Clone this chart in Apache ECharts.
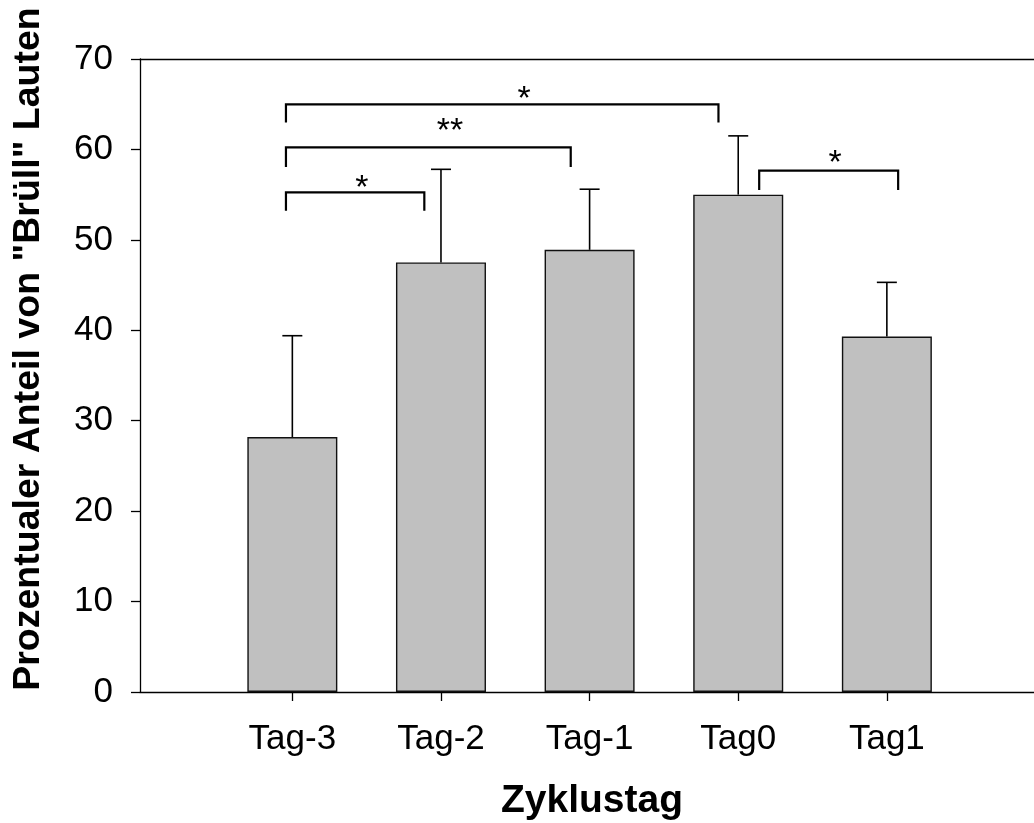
<!DOCTYPE html>
<html>
<head>
<meta charset="utf-8">
<style>
  html, body { margin: 0; padding: 0; background: #fff; overflow: hidden; }
  #chart { width: 1034px; height: 823px; }
</style>
<script src="https://cdn.jsdelivr.net/npm/echarts@6/dist/echarts.min.js"></script>
</head>
<body>
<div id="chart"></div>
<script>
// Cycle days on the x axis
const categories = ['Tag-3', 'Tag-2', 'Tag-1', 'Tag0', 'Tag1'];
// Mean share of "Brüll" calls (%) and upper end of the error bar
const means = [28.2, 47.5, 48.9, 55.0, 39.3];
const upper = [39.4, 57.8, 55.6, 61.5, 45.3];
// y axis ticks
const yTicks = [0, 10, 20, 30, 40, 50, 60, 70];

// Significance brackets: [x start, x end, bracket height, leg length]
const brackets = [
  [0.957, 1.888, 55.26, 2.05],
  [0.957, 2.873, 60.23, 2.17],
  [0.957, 3.867, 64.99, 2.0],
  [4.141, 5.076, 57.65, 2.14]
];
// Significance marks: [text, x, y]
const marks = [
  ['*', 1.468, 56.5],
  ['**', 2.061, 62.8],
  ['*', 2.559, 66.4],
  ['*', 4.652, 59.3]
];

const FONT = '"Liberation Sans", Arial, Helvetica, sans-serif';
const positions = categories.map((c, i) => i + 1);

const chart = echarts.init(document.getElementById('chart'), null, { renderer: 'canvas' });

const option = {
  backgroundColor: '#ffffff',
  animation: false,
  grid: { left: 140, right: 0, top: 59, bottom: 131, containLabel: false },
  xAxis: [
    {
      type: 'value',
      min: -0.025,
      max: 5.99,
      position: 'bottom',
      axisLine: { show: true, onZero: false, lineStyle: { color: '#000', width: 1.3 } },
      axisTick: { show: true, inside: false, length: 9, customValues: positions, lineStyle: { color: '#000', width: 1.3 } },
      axisLabel: {
        show: true,
        customValues: positions,
        margin: 30,
        color: '#000',
        fontFamily: FONT,
        fontSize: 35,
        formatter: v => categories[Math.round(v) - 1] || ''
      },
      splitLine: { show: false }
    },
    {
      type: 'value',
      min: -0.025,
      max: 5.99,
      position: 'top',
      axisLine: { show: true, onZero: false, lineStyle: { color: '#000', width: 1.3 } },
      axisTick: { show: false },
      axisLabel: { show: false },
      splitLine: { show: false }
    }
  ],
  yAxis: {
    type: 'value',
    min: 0,
    max: 70,
    interval: 10,
    axisLine: { show: true, onZero: false, lineStyle: { color: '#000', width: 1.3 } },
    axisTick: { show: true, inside: false, length: 9, lineStyle: { color: '#000', width: 1.3 } },
    axisLabel: {
      margin: 27,
      color: '#000',
      fontFamily: FONT,
      fontSize: 35,
      formatter: v => (yTicks.indexOf(v) >= 0 ? String(v) : '')
    },
    splitLine: { show: false }
  },
  series: [
    {
      type: 'bar',
      xAxisIndex: 0,
      barWidth: 90,
      itemStyle: { color: '#c0c0c0', borderColor: '#111', borderWidth: 1.4 },
      data: means.map((m, i) => [positions[i], m]),
      z: 2
    },
    {
      // error bars (upper whisker with cap)
      type: 'custom',
      xAxisIndex: 0,
      data: means.map((m, i) => [positions[i], m, upper[i]]),
      renderItem: (params, api) => {
        const base = api.coord([api.value(0), api.value(1)]);
        const top = api.coord([api.value(0), api.value(2)]);
        const half = 10;
        const style = { stroke: '#000', lineWidth: 1.6 };
        return {
          type: 'group',
          children: [
            { type: 'line', shape: { x1: base[0], y1: base[1], x2: top[0], y2: top[1] }, style },
            { type: 'line', shape: { x1: top[0] - half, y1: top[1], x2: top[0] + half, y2: top[1] }, style }
          ]
        };
      },
      z: 3
    },
    {
      // significance brackets
      type: 'custom',
      xAxisIndex: 0,
      data: brackets,
      renderItem: (params, api) => {
        const x1 = api.value(0), x2 = api.value(1), y = api.value(2), d = api.value(3);
        const pTopL = api.coord([x1, y]);
        const pTopR = api.coord([x2, y]);
        const pBotL = api.coord([x1, y - d]);
        const pBotR = api.coord([x2, y - d]);
        return {
          type: 'polyline',
          shape: { points: [pBotL, pTopL, pTopR, pBotR] },
          style: { stroke: '#000', lineWidth: 2.2, fill: null, lineJoin: 'miter' }
        };
      },
      z: 4
    },
    {
      // significance stars
      type: 'custom',
      xAxisIndex: 0,
      data: marks.map(m => [m[1], m[2], m[0]]),
      renderItem: (params, api) => {
        const p = api.coord([api.value(0), api.value(1)]);
        return {
          type: 'text',
          x: p[0],
          y: p[1] + 8,
          style: {
            text: marks[params.dataIndex][0],
            fontFamily: FONT,
            fontSize: 34,
            fill: '#000',
            align: 'center',
            verticalAlign: 'middle'
          }
        };
      },
      z: 5
    }
  ],
  graphic: [
    {
      type: 'text',
      x: 29,
      y: 349,
      rotation: Math.PI / 2,
      style: {
        text: 'Prozentualer Anteil von "Brüll" Lauten',
        fontFamily: FONT,
        fontWeight: 'bold',
        fontSize: 37.5,
        fill: '#000',
        align: 'center',
        verticalAlign: 'middle'
      }
    },
    {
      type: 'text',
      x: 592,
      y: 801,
      style: {
        text: 'Zyklustag',
        fontFamily: FONT,
        fontWeight: 'bold',
        fontSize: 39,
        fill: '#000',
        align: 'center',
        verticalAlign: 'middle'
      }
    }
  ]
};

chart.setOption(option);
</script>
</body>
</html>
